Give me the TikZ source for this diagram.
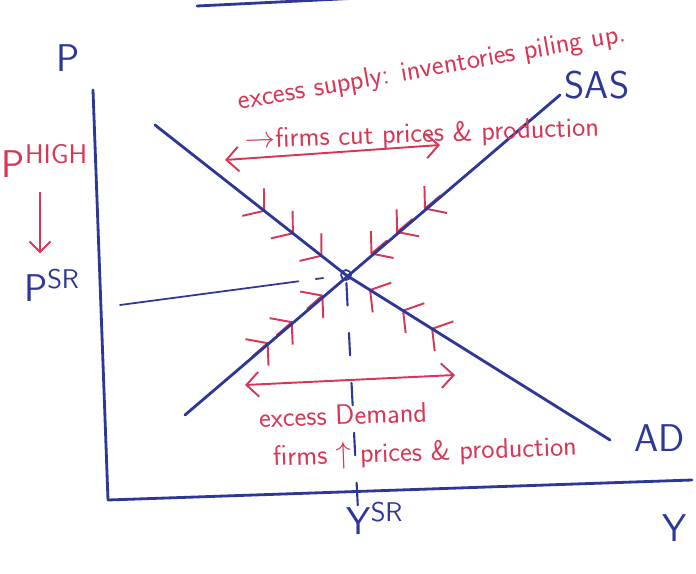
\documentclass[tikz,border=0pt]{standalone}
\usetikzlibrary{arrows.meta,calc}
\definecolor{penblue}{RGB}{45,55,150}
\definecolor{penred}{RGB}{215,55,85}
\tikzset{
  blueink/.style={penblue,line width=1.6pt,line cap=round,line join=round},
  redink/.style={penred,line width=1.1pt,line cap=round},
  hook/.style={redink,-{Straight Barb[length=8pt,width=20pt]}},
  twoway/.style={redink,{Straight Barb[length=7pt,width=14pt]}-{Straight Barb[length=7pt,width=14pt]}},
  note/.style={penred,font=\sffamily\fontsize{16}{18}\selectfont,inner sep=0pt},
  lbl/.style={penblue,font=\sffamily\fontsize{22}{24}\selectfont,inner sep=0pt}
}
\begin{document}
\begin{tikzpicture}[x=0.2mm,y=0.2mm]
	\useasboundingbox (0,0) rectangle (696,573);
	% axes and curves
	\coordinate (O) at (108,73);
	\coordinate (ptop) at (93,483);
	\coordinate (yend) at (692,93);
	\coordinate (eq) at (346,298);
	\coordinate (ad1) at (155,448);
	\coordinate (ad2) at (610,133);
	\coordinate (sas1) at (185,158);
	\coordinate (sas2) at (560,478);
	\coordinate (psr) at (120,268);
	\coordinate (ysr) at (358,63);
	% hooks pointing to the equilibrium
	\foreach \t in {0.49,0.64,0.79}
		\draw[hook] ($(ad1)!\t!(eq)$) -- ($(ad1)!\t!(eq)!12pt!(eq)$);
	\foreach \t in {0.61,0.72,0.845}
		\draw[hook] ($(ad2)!\t!(eq)$) -- ($(ad2)!\t!(eq)!12pt!(eq)$);
	\foreach \t in {0.42,0.57,0.76}
		\draw[hook] ($(sas1)!\t!(eq)$) -- ($(sas1)!\t!(eq)!12pt!(eq)$);
	\foreach \t in {0.56,0.69,0.81}
		\draw[hook] ($(sas2)!\t!(eq)$) -- ($(sas2)!\t!(eq)!12pt!(eq)$);
	\draw[blueink] (ptop) -- (O) -- (yend);
	\draw[blueink] (sas1) -- (sas2);
	\draw[blueink] (ad1) -- (eq) -- (ad2);
	\draw[blueink,line width=1pt] (eq) circle (5);
	\draw[blueink,line width=1pt,dash pattern=on 3.6cm off 0.35cm on 0.15cm off 2cm] (psr) -- (eq);
	\draw[blueink,line width=1.2pt,dash pattern=on 0.45cm off 0.55cm,shorten <=1.6mm] (eq) -- (ysr);
	\draw[blueink] (197,567) -- (360,575);
	% labels
	\node[lbl] (plabel) at (68,515) {P};
	\node[lbl] (ylabel) at (675,45) {Y};
	\node[lbl] (sas) at (597,488) {SAS};
	\node[lbl] (ad) at (660,135) {AD};
	\node[lbl] (psrlabel) at (52,288) {P\textsuperscript{SR}};
	\node[lbl] (ysrlabel) at (375,55) {Y\textsuperscript{SR}};
	\node[lbl,penred] (phigh) at (45,412) {P\textsuperscript{HIGH}};
	\draw[redink,-{Straight Barb[length=6pt,width=12pt]},shorten <=3mm,shorten >=3mm] (phigh.south -| 40,0) -- (psrlabel.north -| 40,0);
	% notes
	\node[note,rotate=10] (supply) at (432,504) {excess supply: inventories piling up.};
	\node[note,rotate=2] (cut) at (422,438) {$\rightarrow$firms cut prices \& production};
	\coordinate (up1) at (225,413);
	\coordinate (up2) at (440,428);
	\draw[twoway] (up1) -- (up2);
	\coordinate (lo1) at (245,188);
	\coordinate (lo2) at (455,198);
	\draw[twoway] (lo1) -- (lo2);
	\node[note,rotate=2] (demand) at (343,158) {excess Demand};
	\node[note,rotate=2] (raise) at (425,120) {firms $\uparrow$ prices \& production};
\end{tikzpicture}
\end{document}
